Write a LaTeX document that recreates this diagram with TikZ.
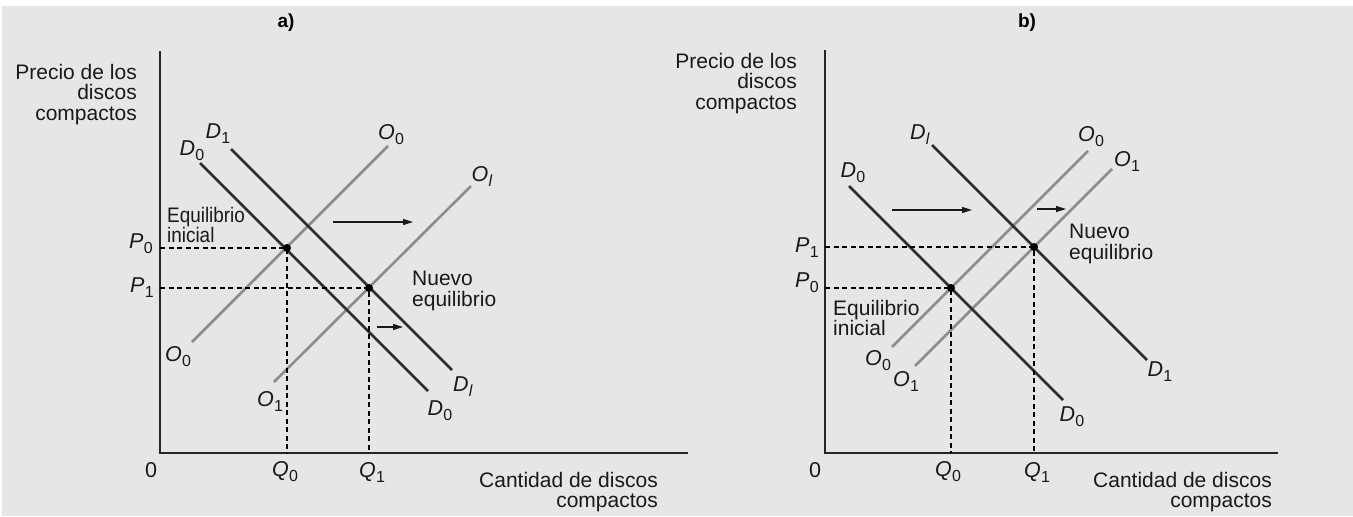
\documentclass[tikz,border=0pt]{standalone}
\usepackage{fontspec}
\usepackage{graphicx}
\setmainfont{Liberation Sans}
\usetikzlibrary{arrows.meta}
\definecolor{bggray}{HTML}{E6E6E6}
\definecolor{demcol}{HTML}{2E2E2E}
\definecolor{offcol}{HTML}{8C8C8C}
\newcommand\lbl[2]{\textit{#1}\kern0.3pt\raisebox{-5pt}{\fontsize{16}{16}\selectfont #2}}
\begin{document}
\begin{tikzpicture}[x=1pt,y=-1pt,
  dem/.style={draw=demcol, line width=2.6pt},
  offer/.style={draw=offcol, line width=2.6pt},
  axisline/.style={draw=black!85, line width=1.8pt},
  guide/.style={draw=black, line width=1.2pt, dash pattern=on 5pt off 3.5pt},
  eqdot/.style={circle, fill=black, inner sep=0pt, minimum size=8pt},
  txt/.style={font=\fontsize{21}{20.5}\selectfont, inner sep=0pt, text=black!90},
  lab/.style={font=\fontsize{21.5}{21.5}\selectfont, inner sep=0pt, text=black!90},
  ttl/.style={font=\fontsize{19}{19}\selectfont\bfseries, inner sep=0pt},
  shiftarrow/.style={-{Triangle[length=10pt,width=6pt]}, line width=1.2pt, draw=black!90}]
\useasboundingbox (0,0) rectangle (1353,517);
\fill[white] (0,0) rectangle (1353,517);
\fill[bggray] (2,6) rectangle (1353,516);

% ================= Panel a =================
\node[ttl] (ta) at (286,23) {a)};
\coordinate (aO) at (160,453);
\coordinate (aYtop) at (160,51);
\coordinate (aXend) at (688,453);
\draw[axisline] (aYtop) -- (aO) -- (aXend);

\coordinate (aD0s) at (200,163); \coordinate (aD0e) at (428,391);
\coordinate (aD1s) at (231,149); \coordinate (aD1e) at (452,370);
\coordinate (aO0s) at (192,342); \coordinate (aO0e) at (388,146);
\coordinate (aO1s) at (274,382); \coordinate (aO1e) at (471,186);
\draw[offer] (aO0s) -- (aO0e);
\draw[offer] (aO1s) -- (aO1e);
\draw[dem] (aD0s) -- (aD0e);
\draw[dem] (aD1s) -- (aD1e);

\node[eqdot] (aE0) at (287,248) {};
\node[eqdot] (aE1) at (369,288) {};
\coordinate (aP0) at (160,248); \coordinate (aP1) at (160,288);
\coordinate (aQ0) at (287,453); \coordinate (aQ1) at (369,453);
\draw[guide] (aP0) -- (aE0.center) -- (aQ0);
\draw[guide] (aP1) -- (aE1.center) -- (aQ1);

\coordinate (aA1s) at (333,222); \coordinate (aA1e) at (413,222);
\coordinate (aA2s) at (377,327); \coordinate (aA2e) at (403,327);
\draw[shiftarrow] (aA1s) -- (aA1e);
\draw[shiftarrow] (aA2s) -- (aA2e);

\node[txt, align=right, anchor=north east] (aylab) at (137,64) {Precio de los\\discos\\compactos};
\node[txt, align=right, anchor=north east] (axlab) at (658,472) {Cantidad de discos\\compactos};
\node[txt, align=left, anchor=north west] (aeq0) at (167,207) {\scalebox{0.9}[1]{Equilibrio}\\\scalebox{0.9}[1]{inicial}};
\node[txt, align=left, anchor=north west] (aeq1) at (412,271) {Nuevo\\equilibrio};

\node[lab] (alD1t) at (218,134) {\lbl{D}{1}};
\node[lab] (alD0t) at (192,151) {\lbl{D}{0}};
\node[lab] (alO0t) at (391,135) {\lbl{O}{0}};
\node[lab] (alO1t) at (482,176) {\lbl{O}{\textit{l}}};
\node[lab] (alD1b) at (463,387) {\lbl{D}{\textit{l}}};
\node[lab] (alD0b) at (440,411) {\lbl{D}{0}};
\node[lab] (alO0b) at (178,357) {\lbl{O}{0}};
\node[lab] (alO1b) at (270,401) {\lbl{O}{1}};
\node[lab] (alQ0) at (285,472) {\lbl{Q}{0}};
\node[lab] (alQ1) at (372,472) {\lbl{Q}{1}};
\node[lab] (alP0) at (141,244) {\lbl{P}{0}};
\node[lab] (alP1) at (142,288) {\lbl{P}{1}};
\node[lab] (al0) at (151,470) {0};

% ================= Panel b =================
\node[ttl] (tb) at (1027,23) {b)};
\coordinate (bO) at (825,453);
\coordinate (bYtop) at (825,50);
\coordinate (bXend) at (1278,453);
\draw[axisline] (bYtop) -- (bO) -- (bXend);

\coordinate (bD0s) at (849,186); \coordinate (bD0e) at (1063,400);
\coordinate (bD1s) at (932,145); \coordinate (bD1e) at (1147,360);
\coordinate (bO0s) at (892,347); \coordinate (bO0e) at (1088,151);
\coordinate (bO1s) at (915,366); \coordinate (bO1e) at (1112,169);
\draw[offer] (bO0s) -- (bO0e);
\draw[offer] (bO1s) -- (bO1e);
\draw[dem] (bD0s) -- (bD0e);
\draw[dem] (bD1s) -- (bD1e);

\node[eqdot] (bE0) at (951,288) {};
\node[eqdot] (bE1) at (1034,247) {};
\coordinate (bP0) at (825,288); \coordinate (bP1) at (825,247);
\coordinate (bQ0) at (951,453); \coordinate (bQ1) at (1034,453);
\draw[guide] (bP0) -- (bE0.center) -- (bQ0);
\draw[guide] (bP1) -- (bE1.center) -- (bQ1);

\coordinate (bA1s) at (892,210); \coordinate (bA1e) at (972,210);
\coordinate (bA2s) at (1037,209); \coordinate (bA2e) at (1066,209);
\draw[shiftarrow] (bA1s) -- (bA1e);
\draw[shiftarrow] (bA2s) -- (bA2e);

\node[txt, align=right, anchor=north east] (bylab) at (797,53) {Precio de los\\discos\\compactos};
\node[txt, align=right, anchor=north east] (bxlab) at (1272,472) {Cantidad de discos\\compactos};
\node[txt, align=left, anchor=north west] (beq0) at (833,300) {Equilibrio\\inicial};
\node[txt, align=left, anchor=north west] (beq1) at (1069,224) {Nuevo\\equilibrio};

\node[lab] (blD1t) at (920,135) {\lbl{D}{\textit{l}}};
\node[lab] (blD0t) at (853,173) {\lbl{D}{0}};
\node[lab] (blO0t) at (1091,137) {\lbl{O}{0}};
\node[lab] (blO1t) at (1127,161) {\lbl{O}{1}};
\node[lab] (blD1b) at (1160,372) {\lbl{D}{1}};
\node[lab] (blD0b) at (1072,417) {\lbl{D}{0}};
\node[lab] (blO0b) at (878,361) {\lbl{O}{0}};
\node[lab] (blO1b) at (906,381) {\lbl{O}{1}};
\node[lab] (blQ0) at (948,472) {\lbl{Q}{0}};
\node[lab] (blQ1) at (1037,472) {\lbl{Q}{1}};
\node[lab] (blP1) at (807,248) {\lbl{P}{1}};
\node[lab] (blP0) at (807,283) {\lbl{P}{0}};
\node[lab] (bl0) at (815,470) {0};
\end{tikzpicture}
\end{document}
